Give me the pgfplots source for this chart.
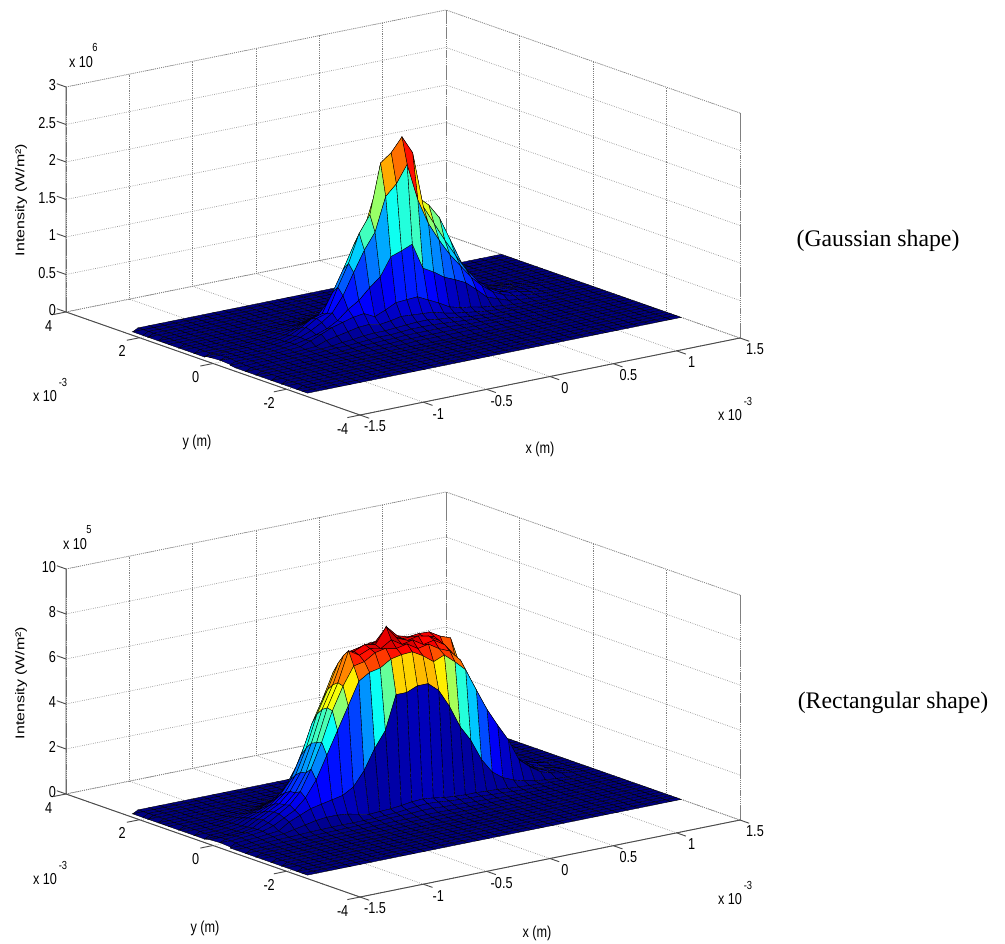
\documentclass[border=0pt]{standalone}
\usepackage{graphicx}
\usepackage{pgfplots}
\pgfplotsset{compat=1.18}
\usepackage{fontspec}
\setmainfont{Liberation Sans}
\newfontfamily\serifx{Liberation Serif}
\newcommand\T[1]{\scalebox{1}[1.25]{#1}}
\newcommand\lab[3]{\node[inner sep=0pt,font=\fontsize{9.5}{11}\selectfont] at ({#1*0.75pt},{(944-#2)*0.75pt}) {\T{#3}};}
\newcommand\sx[2]{\node[inner sep=0pt,font=\fontsize{9.5}{11}\selectfont] at ({#1*0.75pt},{(944-#2)*0.75pt}) {\T{x 10}};\node[inner sep=0pt,font=\fontsize{7}{8}\selectfont] at ({(#1+\supx)*0.75pt},{(944-#2+14)*0.75pt}) {\T{\supt}};}
\pgfplotsset{colormap={mjet}{rgb=(0,0,.5) rgb=(0,0,1) rgb=(0,.5,1) rgb=(0,1,1) rgb=(.5,1,.5) rgb=(1,1,0) rgb=(1,.5,0) rgb=(1,0,0) rgb=(.5,0,0)}}
\pgfplotsset{matlab/.style={
  anchor=origin, clip=false,
  x={(95pt,19.25pt)}, y={(-27.56pt,9.66pt)},
  xmin=-1.5,xmax=1.5,ymin=-4,ymax=4,
  xtick={-1.5,-1,-0.5,0,0.5,1,1.5}, ytick={-4,-2,0,2,4},
  xticklabels={\T{-1.5},\T{-1},\T{-0.5},\T{0},\T{0.5},\T{1},\T{1.5}}, yticklabels={\T{-4},\T{-2},\T{0},\T{2},\T{4}},
  /pgf/number format/assume math mode=true,
  tick label style={font=\fontsize{9.5}{11}\selectfont},
  xticklabel style={anchor=center,xshift=11.25pt,yshift=-8.6pt},
  yticklabel style={anchor=center,xshift=-13pt,yshift=-10.2pt},
  zticklabel style={anchor=east,xshift=-4pt,yshift=1.2pt},
  grid=major, grid style={densely dotted,black!50,line width=0.55pt},
  axis line style={densely dotted,black!50,line width=0.55pt},
  major tick length=0pt,
  colormap name=mjet, point meta=z,
}, msurf/.style={surf,shader=flat corner,draw=black,line width=0.28pt,z buffer=sort,mesh/cols=36}}
\newcommand\decor[2]{%
  \draw[black!70,line width=0.7pt] (axis cs:-1.5,4,#1)--(axis cs:-1.5,4,0)--(axis cs:-1.5,-4,0)--(axis cs:1.5,-4,0);
  \pgfplotsinvokeforeach{-1.5,-1,-0.5,0,0.5,1,1.5}{\draw[black!70,line width=0.7pt] (axis cs:##1,-4,0)--(axis cs:##1,-4.25,0);}
  \pgfplotsinvokeforeach{-4,-2,0,2,4}{\draw[black!70,line width=0.7pt] (axis cs:-1.5,##1,0)--(axis cs:-1.6,##1,0);}
  \pgfplotsinvokeforeach{#2}{\draw[black!70,line width=0.7pt] (axis cs:-1.5,4,##1)--(axis cs:-1.5,4.25,##1);}
}
\begin{document}
\begin{tikzpicture}
\useasboundingbox (0,0) rectangle (753.75pt,708pt);
\begin{axis}[matlab, at={(302.25pt,464.25pt)}, z={(0pt,56.25pt)}, zmin=0,zmax=3, ztick={0,0.5,1,1.5,2,2.5,3}, zticklabels={\T{0},\T{0.5},\T{1},\T{1.5},\T{2},\T{2.5},\T{3}}, point meta min=0, point meta max=2.44]
\addplot3[msurf] table[row sep=\\,header=false,x expr={-1.45+0.08429*mod(\coordindex,36)},y expr={-2.4+0.14*floor(\coordindex/36)},z index=0] {
0\\0\\0\\0\\0\\0\\0\\0\\0\\0\\0\\0\\0\\0\\0\\0\\0\\0\\0\\0\\0\\0\\0\\0\\0\\0\\0\\0\\0\\0\\0\\0\\0\\0\\0\\0\\
0\\0\\0\\0\\0\\0\\0\\0\\0\\0\\0\\0\\0\\0\\0\\0\\0\\0\\0\\0\\0\\0\\0\\0\\0\\0\\0\\0\\0\\0\\0\\0\\0\\0\\0\\0\\
0\\0\\0\\0\\0\\0\\0\\0\\0\\0\\0\\0\\0\\0\\0\\0\\0\\0\\0\\0\\0\\0\\0\\0\\0\\0\\0\\0\\0\\0\\0\\0\\0\\0\\0\\0\\
0\\0\\0\\0\\0\\0\\0\\0\\0\\0\\0\\0\\0\\0\\0\\0\\0\\0\\0\\0\\0\\0\\0\\0\\0\\0\\0\\0\\0\\0\\0\\0\\0\\0\\0\\0\\
0\\0\\0\\0\\0\\0\\0\\0\\0\\0\\0\\0\\0\\0\\0\\0\\0\\0\\0\\0\\0\\0\\0\\0\\0\\0\\0\\0\\0\\0\\0\\0\\0\\0\\0\\0\\
0\\0\\0\\0\\0\\0\\0\\0\\0\\0\\0\\0\\0\\0\\0\\0\\0\\0\\0\\0\\0\\0\\0\\0\\0\\0\\0\\0\\0\\0\\0\\0\\0\\0\\0\\0\\
0\\0\\0\\0\\0\\0\\0\\0\\0\\0\\0\\0\\0\\0\\0\\0\\0\\0\\0\\0\\0\\0\\0\\0\\0\\0\\0\\0\\0\\0\\0\\0\\0\\0\\0\\0\\
0\\0\\0\\0\\0\\0\\0\\0\\0\\0\\0\\0\\0\\0\\0\\0\\0\\0\\0\\0\\0\\0\\0\\0\\0\\0\\0\\0\\0\\0\\0\\0\\0\\0\\0\\0\\
0\\0\\0\\0\\0\\0\\0\\0\\0\\0\\0\\0\\0\\0\\0\\0\\0\\0\\0\\0\\0\\0\\0\\0\\0\\0\\0\\0\\0\\0\\0\\0\\0\\0\\0\\0\\
0\\0\\0\\0\\0\\0\\0\\0\\0\\0\\0\\0\\0\\0\\0\\0\\0\\0\\0\\0\\0\\0\\0\\0\\0\\0\\0\\0\\0\\0\\0\\0\\0\\0\\0\\0\\
0\\0\\0\\0\\0\\0\\0\\0\\0\\0\\0.01\\0.01\\0.01\\0.01\\0.01\\0.02\\0.02\\0.02\\0.02\\0.02\\0.02\\0.01\\0.01\\0.01\\0.01\\0\\0\\0\\0\\0\\0\\0\\0\\0\\0\\0\\
0\\0\\0\\0\\0\\0\\0\\0.01\\0.01\\0.01\\0.01\\0.02\\0.02\\0.02\\0.03\\0.03\\0.03\\0.03\\0.03\\0.03\\0.03\\0.02\\0.02\\0.02\\0.01\\0.01\\0.01\\0\\0\\0\\0\\0\\0\\0\\0\\0\\
0\\0\\0\\0\\0\\0.01\\0.01\\0.01\\0.01\\0.01\\0.02\\0.03\\0.03\\0.04\\0.04\\0.05\\0.05\\0.05\\0.05\\0.05\\0.04\\0.03\\0.03\\0.02\\0.02\\0.01\\0.01\\0.01\\0\\0\\0\\0\\0\\0\\0\\0\\
0\\0\\0\\0.01\\0.01\\0.01\\0.01\\0.01\\0.02\\0.03\\0.03\\0.04\\0.05\\0.06\\0.06\\0.07\\0.08\\0.08\\0.08\\0.07\\0.06\\0.05\\0.04\\0.03\\0.02\\0.02\\0.01\\0.01\\0.01\\0\\0\\0\\0\\0\\0\\0\\
0\\0\\0.01\\0.01\\0.01\\0.01\\0.01\\0.02\\0.02\\0.03\\0.05\\0.06\\0.08\\0.09\\0.09\\0.1\\0.11\\0.12\\0.12\\0.1\\0.09\\0.07\\0.05\\0.04\\0.03\\0.02\\0.02\\0.01\\0.01\\0\\0\\0\\0\\0\\0\\0\\
0.01\\0.01\\0.01\\0.01\\0.01\\0.01\\0.01\\0.02\\0.03\\0.08\\0.11\\0.14\\0.17\\0.18\\0.15\\0.17\\0.2\\0.19\\0.18\\0.17\\0.13\\0.1\\0.08\\0.06\\0.04\\0.03\\0.02\\0.01\\0.01\\0\\0\\0\\0\\0\\0\\0\\
0.02\\0.01\\0.01\\0.01\\0.01\\0.01\\0.02\\0.03\\0.08\\0.14\\0.2\\0.24\\0.28\\0.3\\0.23\\0.29\\0.36\\0.37\\0.38\\0.31\\0.24\\0.16\\0.12\\0.1\\0.07\\0.05\\0.03\\0.02\\0.01\\0.01\\0\\0\\0\\0\\0\\0\\
0.03\\0.02\\0.01\\0.01\\0.01\\0.01\\0.02\\0.04\\0.07\\0.11\\0.16\\0.24\\0.36\\0.45\\0.59\\0.71\\0.95\\1.0\\1.06\\0.71\\0.63\\0.53\\0.47\\0.4\\0.28\\0.15\\0.1\\0.05\\0.03\\0.02\\0.01\\0\\0\\0\\0\\0\\
0.03\\0.02\\0.01\\0.01\\0.01\\0.01\\0.02\\0.04\\0.08\\0.14\\0.22\\0.32\\0.52\\0.8\\1.07\\1.28\\1.73\\1.87\\2.1\\1.6\\1.25\\1.0\\0.78\\0.6\\0.42\\0.28\\0.17\\0.1\\0.06\\0.04\\0.02\\0.01\\0\\0\\0\\0\\
0.02\\0.02\\0.01\\0.01\\0.01\\0.01\\0.02\\0.03\\0.07\\0.16\\0.25\\0.29\\0.61\\0.9\\1.27\\1.49\\2.15\\2.26\\2.44\\2.2\\1.45\\1.2\\0.95\\0.72\\0.5\\0.33\\0.2\\0.12\\0.08\\0.06\\0.03\\0.01\\0\\0\\0\\0\\
0.01\\0.01\\0.01\\0.01\\0.01\\0.01\\0.01\\0.03\\0.06\\0.13\\0.22\\0.26\\0.52\\0.8\\1.1\\1.3\\1.75\\1.85\\1.95\\1.8\\1.55\\1.42\\1.22\\0.9\\0.58\\0.37\\0.18\\0.09\\0.07\\0.07\\0.04\\0.02\\0\\0\\0\\0\\
0\\0\\0\\0\\0\\0.01\\0.01\\0.02\\0.04\\0.09\\0.15\\0.2\\0.36\\0.55\\0.75\\0.95\\1.2\\1.3\\1.3\\1.25\\1.15\\1.05\\0.9\\0.65\\0.42\\0.25\\0.14\\0.08\\0.07\\0.06\\0.04\\0.02\\0.01\\0\\0\\0\\
0\\0\\0\\0\\0\\0\\0.01\\0.01\\0.03\\0.05\\0.1\\0.14\\0.22\\0.34\\0.5\\0.62\\0.75\\0.82\\0.85\\0.8\\0.72\\0.65\\0.55\\0.4\\0.27\\0.16\\0.1\\0.06\\0.06\\0.05\\0.03\\0.02\\0.01\\0\\0\\0\\
0\\0\\0\\0\\0\\0\\0\\0.01\\0.02\\0.03\\0.06\\0.09\\0.13\\0.2\\0.3\\0.38\\0.45\\0.5\\0.5\\0.48\\0.43\\0.38\\0.3\\0.22\\0.15\\0.1\\0.06\\0.04\\0.04\\0.04\\0.03\\0.01\\0\\0\\0\\0\\
0\\0\\0\\0\\0\\0\\0\\0\\0.01\\0.02\\0.03\\0.05\\0.08\\0.12\\0.17\\0.22\\0.26\\0.28\\0.28\\0.26\\0.23\\0.2\\0.16\\0.12\\0.08\\0.05\\0.03\\0.02\\0.02\\0.02\\0.01\\0\\0\\0\\0\\0\\
0\\0\\0\\0\\0\\0\\0\\0\\0\\0.01\\0.02\\0.03\\0.04\\0.06\\0.09\\0.12\\0.14\\0.15\\0.15\\0.14\\0.12\\0.1\\0.08\\0.06\\0.04\\0.03\\0.02\\0.01\\0.01\\0\\0\\0\\0\\0\\0\\0\\
0\\0\\0\\0\\0\\0\\0\\0\\0\\0\\0\\0.01\\0.02\\0.03\\0.04\\0.06\\0.07\\0.08\\0.08\\0.07\\0.06\\0.05\\0.04\\0.03\\0.02\\0.01\\0\\0\\0\\0\\0\\0\\0\\0\\0\\0\\
0\\0\\0\\0\\0\\0\\0\\0\\0\\0\\0\\0\\0\\0.01\\0.02\\0.03\\0.03\\0.04\\0.04\\0.03\\0.03\\0.02\\0.02\\0.01\\0\\0\\0\\0\\0\\0\\0\\0\\0\\0\\0\\0\\
0\\0\\0\\0\\0\\0\\0\\0\\0\\0\\0\\0\\0\\0\\0\\0.01\\0.01\\0.01\\0.01\\0.01\\0.01\\0\\0\\0\\0\\0\\0\\0\\0\\0\\0\\0\\0\\0\\0\\0\\
0\\0\\0\\0\\0\\0\\0\\0\\0\\0\\0\\0\\0\\0\\0\\0\\0\\0\\0\\0\\0\\0\\0\\0\\0\\0\\0\\0\\0\\0\\0\\0\\0\\0\\0\\0\\
0\\0\\0\\0\\0\\0\\0\\0\\0\\0\\0\\0\\0\\0\\0\\0\\0\\0\\0\\0\\0\\0\\0\\0\\0\\0\\0\\0\\0\\0\\0\\0\\0\\0\\0\\0\\
0\\0\\0\\0\\0\\0\\0\\0\\0\\0\\0\\0\\0\\0\\0\\0\\0\\0\\0\\0\\0\\0\\0\\0\\0\\0\\0\\0\\0\\0\\0\\0\\0\\0\\0\\0\\
0\\0\\0\\0\\0\\0\\0\\0\\0\\0\\0\\0\\0\\0\\0\\0\\0\\0\\0\\0\\0\\0\\0\\0\\0\\0\\0\\0\\0\\0\\0\\0\\0\\0\\0\\0\\
0\\0\\0\\0\\0\\0\\0\\0\\0\\0\\0\\0\\0\\0\\0\\0\\0\\0\\0\\0\\0\\0\\0\\0\\0\\0\\0\\0\\0\\0\\0\\0\\0\\0\\0\\0\\
0\\0\\0\\0\\0\\0\\0\\0\\0\\0\\0\\0\\0\\0\\0\\0\\0\\0\\0\\0\\0\\0\\0\\0\\0\\0\\0\\0\\0\\0\\0\\0\\0\\0\\0\\0\\
0\\0\\0\\0\\0\\0\\0\\0\\0\\0\\0\\0\\0\\0\\0\\0\\0\\0\\0\\0\\0\\0\\0\\0\\0\\0\\0\\0\\0\\0\\0\\0\\0\\0\\0\\0\\};
\decor{3}{0,0.5,1,1.5,2,2.5,3}
\end{axis}
\begin{axis}[matlab, at={(302.25pt,102.75pt)}, z={(0pt,16.875pt)}, zmin=0,zmax=10, ztick={0,2,4,6,8,10}, zticklabels={\T{0},\T{2},\T{4},\T{6},\T{8},\T{10}}, point meta min=0, point meta max=7.8]
\addplot3[msurf] table[row sep=\\,header=false,x expr={-1.45+0.08429*mod(\coordindex,36)},y expr={-2.4+0.14*floor(\coordindex/36)},z index=0] {
0\\0\\0\\0\\0\\0\\0\\0\\0\\0\\0\\0\\0\\0\\0\\0\\0\\0\\0\\0\\0\\0\\0\\0\\0\\0\\0\\0\\0\\0\\0\\0\\0\\0\\0\\0\\
0\\0\\0\\0\\0\\0\\0\\0\\0\\0\\0\\0\\0\\0\\0\\0\\0\\0\\0\\0\\0\\0\\0\\0\\0\\0\\0\\0\\0\\0\\0\\0\\0\\0\\0\\0\\
0\\0\\0\\0\\0\\0\\0\\0\\0\\0\\0\\0\\0\\0\\0\\0\\0\\0\\0\\0\\0\\0\\0\\0\\0\\0\\0\\0\\0\\0\\0\\0\\0\\0\\0\\0\\
0\\0\\0\\0\\0\\0\\0\\0\\0\\0\\0\\0\\0\\0\\0\\0\\0\\0\\0\\0\\0\\0\\0\\0\\0\\0\\0\\0\\0\\0\\0\\0\\0\\0\\0\\0\\
0\\0\\0\\0\\0\\0\\0\\0\\0\\0\\0\\0\\0\\0\\0\\0\\0\\0\\0\\0\\0\\0\\0\\0\\0\\0\\0\\0\\0\\0\\0\\0\\0\\0\\0\\0\\
0\\0\\0\\0\\0\\0\\0\\0\\0\\0\\0\\0\\0\\0\\0\\0\\0\\0\\0\\0\\0\\0\\0\\0\\0\\0\\0\\0\\0\\0\\0\\0\\0\\0\\0\\0\\
0\\0\\0\\0\\0\\0\\0\\0\\0\\0\\0\\0\\0\\0\\0\\0\\0\\0\\0\\0\\0\\0\\0\\0\\0\\0\\0\\0\\0\\0\\0\\0\\0\\0\\0\\0\\
0\\0\\0\\0\\0\\0\\0\\0\\0\\0\\0\\0\\0\\0\\0\\0\\0\\0\\0\\0\\0\\0\\0\\0\\0\\0\\0\\0\\0\\0\\0\\0\\0\\0\\0\\0\\
0\\0\\0\\0\\0\\0\\0\\0\\0\\0\\0\\0\\0\\0\\0\\0\\0\\0\\0\\0\\0\\0\\0\\0\\0\\0\\0\\0\\0\\0\\0\\0\\0\\0\\0\\0\\
0\\0\\0\\0\\0\\0\\0\\0\\0\\0\\0\\0\\0\\0\\0\\0\\0\\0\\0\\0\\0\\0\\0\\0\\0\\0\\0\\0\\0\\0\\0\\0\\0\\0\\0\\0\\
0\\0\\0\\0\\0\\0\\0\\0\\0.01\\0.01\\0.02\\0.02\\0.02\\0.02\\0.02\\0.03\\0.03\\0.03\\0.03\\0.03\\0.02\\0.02\\0.02\\0.02\\0.02\\0.01\\0.01\\0.01\\0.01\\0\\0\\0\\0\\0\\0\\0\\
0\\0\\0\\0\\0\\0\\0.01\\0.01\\0.02\\0.02\\0.03\\0.03\\0.03\\0.04\\0.04\\0.05\\0.05\\0.05\\0.06\\0.05\\0.05\\0.04\\0.04\\0.03\\0.03\\0.03\\0.02\\0.02\\0.01\\0.01\\0\\0\\0\\0\\0\\0\\
0\\0\\0\\0\\0.01\\0.02\\0.02\\0.03\\0.03\\0.04\\0.05\\0.05\\0.06\\0.07\\0.08\\0.08\\0.09\\0.1\\0.1\\0.09\\0.08\\0.07\\0.06\\0.05\\0.05\\0.04\\0.03\\0.02\\0.02\\0.01\\0\\0\\0\\0\\0\\0\\
0\\0\\0\\0.02\\0.03\\0.04\\0.05\\0.06\\0.07\\0.08\\0.09\\0.1\\0.12\\0.13\\0.15\\0.16\\0.17\\0.2\\0.2\\0.17\\0.15\\0.13\\0.11\\0.1\\0.08\\0.07\\0.05\\0.04\\0.03\\0.02\\0.01\\0\\0\\0\\0\\0\\
0\\0\\0.03\\0.05\\0.07\\0.08\\0.1\\0.12\\0.13\\0.14\\0.15\\0.14\\0.15\\0.15\\0.18\\0.2\\0.25\\0.3\\0.33\\0.3\\0.25\\0.22\\0.2\\0.18\\0.15\\0.13\\0.1\\0.08\\0.05\\0.03\\0.02\\0\\0\\0\\0\\0\\
0\\0\\0.05\\0.08\\0.12\\0.15\\0.25\\0.35\\0.45\\0.5\\0.5\\0.45\\0.35\\0.25\\0.28\\0.3\\0.35\\0.42\\0.45\\0.4\\0.32\\0.28\\0.25\\0.25\\0.22\\0.2\\0.15\\0.12\\0.09\\0.06\\0.04\\0.02\\0\\0\\0\\0\\
0.05\\0.05\\0.08\\0.1\\0.15\\0.2\\0.5\\0.7\\0.9\\1.0\\1.1\\1.2\\1.48\\2.1\\3.0\\3.7\\5.2\\5.2\\5.4\\5.4\\5.0\\4.2\\3.2\\2.5\\1.55\\0.9\\0.55\\0.35\\0.22\\0.12\\0.07\\0.03\\0\\0\\0\\0\\
0.08\\0.06\\0.1\\0.14\\0.2\\0.35\\0.6\\0.85\\1.3\\2.0\\3.0\\4.0\\5.0\\6.0\\6.3\\6.4\\6.7\\6.8\\6.83\\6.56\\6.2\\6.4\\6.0\\5.55\\4.56\\3.6\\2.8\\2.05\\1.07\\0.67\\0.35\\0.2\\0.1\\0.04\\0\\0\\
0.08\\0.06\\0.1\\0.15\\0.2\\0.4\\0.7\\1.0\\1.5\\2.4\\3.5\\4.8\\5.8\\6.6\\6.7\\7.0\\7.1\\7.0\\7.1\\6.8\\6.9\\6.6\\6.4\\5.9\\4.9\\3.9\\3.0\\2.2\\1.2\\0.75\\0.4\\0.22\\0.1\\0.04\\0\\0\\
0.05\\0.05\\0.06\\0.08\\0.18\\0.45\\0.7\\0.92\\1.36\\2.15\\3.4\\4.85\\5.87\\7.2\\6.9\\7.1\\7.0\\7.3\\7.0\\7.1\\6.8\\6.9\\6.6\\6.0\\5.0\\4.0\\3.1\\2.3\\1.3\\0.8\\0.42\\0.22\\0.1\\0.04\\0\\0\\
0\\0\\0\\0.06\\0.15\\0.4\\0.65\\0.9\\1.35\\2.1\\3.3\\4.7\\5.7\\6.9\\7.0\\7.2\\7.1\\7.8\\7.2\\7.0\\7.1\\7.0\\6.7\\6.1\\5.1\\4.0\\3.1\\2.2\\1.3\\0.75\\0.4\\0.2\\0.1\\0\\0\\0\\
0\\0\\0\\0.05\\0.12\\0.35\\0.55\\0.8\\1.2\\1.9\\3.0\\4.4\\5.4\\6.5\\6.9\\7.0\\7.1\\7.0\\7.2\\7.0\\7.0\\6.9\\6.8\\6.2\\5.6\\4.6\\3.6\\2.7\\1.9\\1.1\\0.5\\0.25\\0.1\\0\\0\\0\\
0\\0\\0\\0.04\\0.1\\0.3\\0.45\\0.65\\1.0\\1.6\\2.6\\3.9\\4.9\\6.0\\6.6\\6.8\\6.9\\7.0\\7.54\\7.05\\6.9\\6.95\\6.93\\6.65\\6.47\\5.0\\3.95\\3.07\\2.36\\1.55\\0.6\\0.3\\0.15\\0.06\\0\\0\\
0\\0\\0\\0.03\\0.08\\0.22\\0.35\\0.5\\0.75\\1.2\\2.0\\3.1\\4.1\\5.2\\5.9\\6.3\\6.5\\6.6\\6.8\\6.6\\6.5\\6.6\\6.5\\6.2\\5.8\\4.6\\3.6\\2.7\\1.9\\1.1\\0.5\\0.25\\0.1\\0\\0\\0\\
0\\0\\0\\0\\0.05\\0.15\\0.25\\0.35\\0.55\\0.85\\1.4\\2.2\\3.0\\4.0\\4.8\\5.3\\5.5\\5.6\\5.7\\5.6\\5.5\\5.5\\5.4\\5.1\\4.7\\3.7\\2.8\\2.0\\1.3\\0.7\\0.35\\0.15\\0.05\\0\\0\\0\\
0\\0\\0\\0\\0.03\\0.1\\0.15\\0.22\\0.35\\0.55\\0.9\\1.4\\2.0\\2.7\\3.3\\3.7\\3.9\\4.0\\4.0\\3.9\\3.9\\3.9\\3.8\\3.5\\3.1\\2.4\\1.8\\1.2\\0.75\\0.4\\0.2\\0.08\\0\\0\\0\\0\\
0\\0\\0\\0\\0\\0.05\\0.08\\0.12\\0.2\\0.3\\0.5\\0.8\\1.2\\1.6\\2.0\\2.2\\2.3\\2.4\\2.4\\2.3\\2.3\\2.3\\2.2\\2.0\\1.7\\1.3\\0.95\\0.6\\0.35\\0.2\\0.1\\0.04\\0\\0\\0\\0\\
0\\0\\0\\0\\0\\0\\0.04\\0.06\\0.1\\0.15\\0.25\\0.4\\0.6\\0.8\\1.0\\1.1\\1.2\\1.2\\1.2\\1.2\\1.2\\1.1\\1.0\\0.9\\0.75\\0.55\\0.4\\0.25\\0.15\\0.08\\0.04\\0\\0\\0\\0\\0\\
0\\0\\0\\0\\0\\0\\0\\0.03\\0.05\\0.07\\0.1\\0.18\\0.25\\0.35\\0.45\\0.5\\0.55\\0.55\\0.55\\0.5\\0.5\\0.45\\0.4\\0.35\\0.3\\0.2\\0.15\\0.1\\0.06\\0.03\\0\\0\\0\\0\\0\\0\\
0\\0\\0\\0\\0\\0\\0\\0\\0\\0.03\\0.05\\0.07\\0.1\\0.14\\0.18\\0.2\\0.22\\0.22\\0.22\\0.2\\0.2\\0.18\\0.15\\0.13\\0.1\\0.07\\0.05\\0.03\\0.02\\0\\0\\0\\0\\0\\0\\0\\
0\\0\\0\\0\\0\\0\\0\\0\\0\\0\\0\\0.03\\0.04\\0.05\\0.07\\0.08\\0.08\\0.08\\0.08\\0.08\\0.07\\0.06\\0.05\\0.04\\0.03\\0.02\\0\\0\\0\\0\\0\\0\\0\\0\\0\\0\\
0\\0\\0\\0\\0\\0\\0\\0\\0\\0\\0\\0\\0\\0.02\\0.02\\0.03\\0.03\\0.03\\0.03\\0.03\\0.03\\0.02\\0.02\\0\\0\\0\\0\\0\\0\\0\\0\\0\\0\\0\\0\\0\\
0\\0\\0\\0\\0\\0\\0\\0\\0\\0\\0\\0\\0\\0\\0\\0\\0\\0\\0\\0\\0\\0\\0\\0\\0\\0\\0\\0\\0\\0\\0\\0\\0\\0\\0\\0\\
0\\0\\0\\0\\0\\0\\0\\0\\0\\0\\0\\0\\0\\0\\0\\0\\0\\0\\0\\0\\0\\0\\0\\0\\0\\0\\0\\0\\0\\0\\0\\0\\0\\0\\0\\0\\
0\\0\\0\\0\\0\\0\\0\\0\\0\\0\\0\\0\\0\\0\\0\\0\\0\\0\\0\\0\\0\\0\\0\\0\\0\\0\\0\\0\\0\\0\\0\\0\\0\\0\\0\\0\\
0\\0\\0\\0\\0\\0\\0\\0\\0\\0\\0\\0\\0\\0\\0\\0\\0\\0\\0\\0\\0\\0\\0\\0\\0\\0\\0\\0\\0\\0\\0\\0\\0\\0\\0\\0\\};
\decor{10}{0,2,4,6,8,10}
\end{axis}
\def\supt{6}\def\supx{14}\sx{81}{62}
\def\supt{5}\def\supx{14}\sx{75}{544}
\def\supt{-3}\def\supx{18}\sx{45}{396}\sx{730}{415}\sx{45}{879}\sx{730}{899}
\lab{197}{442}{y (m)}\lab{540}{449}{x (m)}\lab{205}{928}{y (m)}\lab{537}{933}{x (m)}
\node[rotate=90,inner sep=0pt,font=\fontsize{9.5}{11}\selectfont] at ({21*0.75pt},{(944-200)*0.75pt}) {\scalebox{1.26}[1]{Intensity (W/m²)}};
\node[rotate=90,inner sep=0pt,font=\fontsize{9.5}{11}\selectfont] at ({21*0.75pt},{(944-683)*0.75pt}) {\scalebox{1.26}[1]{Intensity (W/m²)}};
\node[inner sep=0pt,font=\serifx\fontsize{17.8}{20}\selectfont] at ({878*0.75pt},{(944-241)*0.75pt}) {(Gaussian shape)};
\node[inner sep=0pt,font=\serifx\fontsize{17.8}{20}\selectfont] at ({893*0.75pt},{(944-703)*0.75pt}) {(Rectangular shape)};
\end{tikzpicture}
\end{document}
